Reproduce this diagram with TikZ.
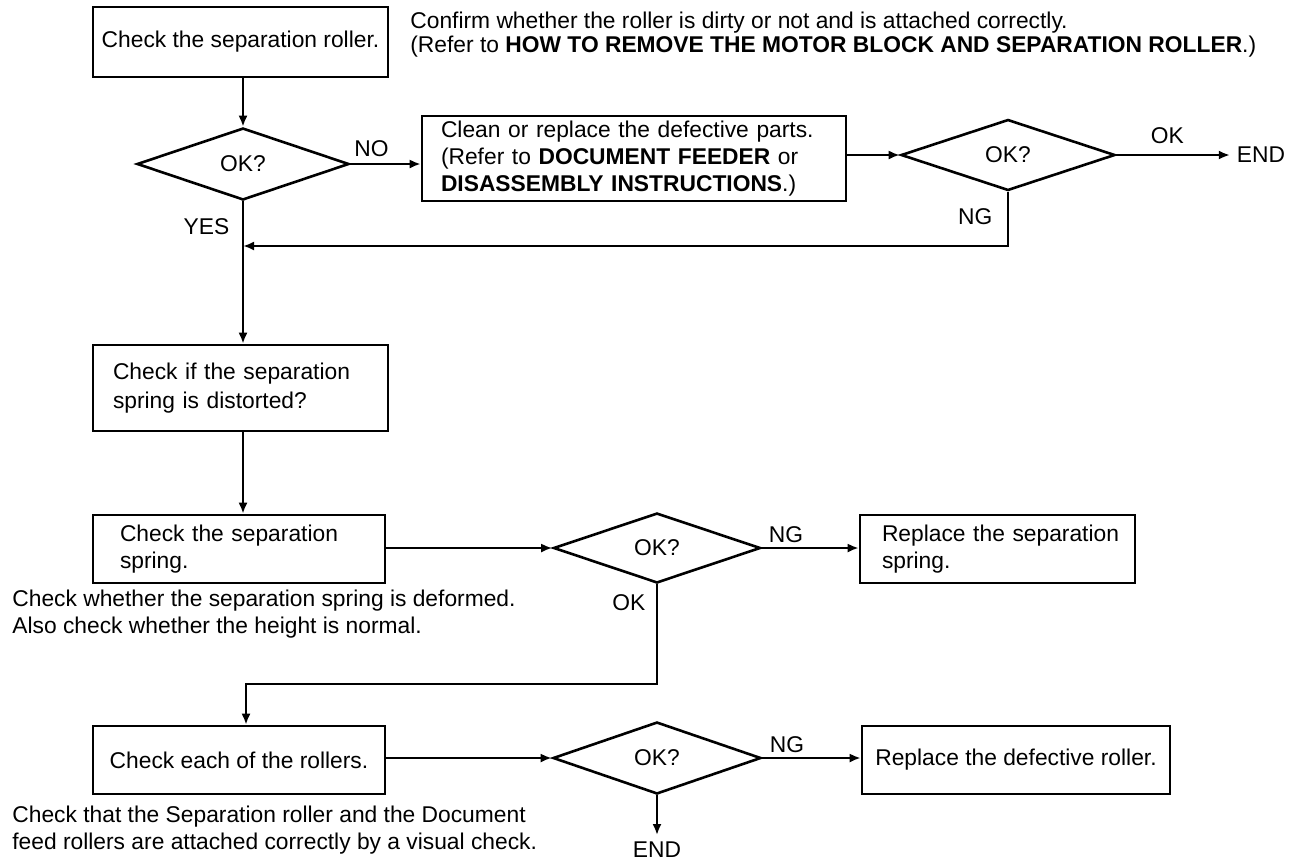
\documentclass[tikz,border=0pt]{standalone}
\usepackage{fontspec}
\setmainfont{Liberation Sans}
\usetikzlibrary{arrows.meta,shapes,positioning}

\begin{document}
\begin{tikzpicture}[>={Latex[length=5.5pt,width=4.5pt]},x=0.5pt,y=-0.5pt,line join=miter,
  every node/.style={font=\fontsize{11.4}{13.5}\selectfont},
  box/.style={draw,line width=1.3pt,inner ysep=0pt},
  test/.style={draw,diamond,line width=1.3pt,inner sep=0pt,minimum width=106pt,minimum height=36pt},
  link/.style={line width=1.1pt}]
\useasboundingbox (0,0) rectangle (1299,863);
%%
\node (chkRoller) at (240.5,42) [box,minimum width=147.5pt,minimum height=35pt,inner xsep=0pt] {Check the separation roller.};
  \node (rollerNote) at (410,35) [anchor=west,align=left,inner sep=0pt,font=\fontsize{11.4}{12}\selectfont] {Confirm whether the roller is dirty or not and is attached correctly.\\(Refer to \textbf{HOW TO REMOVE THE MOTOR BLOCK AND SEPARATION ROLLER}.)};
  \node (okRoller) at (243,164) [test] {OK?};
  \node (cleanParts) at (634,158.5) [box,minimum width=212pt,minimum height=42.5pt,inner xsep=9.5pt,text width=193pt,align=left] {Clean or replace the defective parts.\\(Refer to \textbf{DOCUMENT FEEDER} or\\\textbf{DISASSEMBLY INSTRUCTIONS}.)};
  \node (okClean) at (1008,155) [test,minimum width=107pt,minimum height=35.5pt] {OK?};
  \node (endClean) at (1261,155) {END};
  \coordinate (join) at (243,246);
  \node (chkDistort) at (240.5,388) [box,minimum width=147.5pt,minimum height=43pt,inner xsep=10pt,text width=127.5pt,align=left,font=\fontsize{11.4}{14.5}\selectfont] {Check if the separation\\spring is distorted?};
  \node (chkSpring) at (239,549) [box,minimum width=146pt,minimum height=34pt,inner xsep=13.5pt,text width=119pt,align=left] {Check the separation\\spring.};
  \node (springNote) at (12,614.5) [anchor=west,align=left,inner sep=0pt] {Check whether the separation spring is deformed.\\Also check whether the height is normal.};
  \node (okSpring) at (657,548) [test,minimum width=103.5pt,minimum height=35pt] {OK?};
  \node (newSpring) at (997.5,549) [box,minimum width=137.5pt,minimum height=34pt,inner xsep=11pt,text width=115.5pt,align=left] {\mbox{Replace the separation}\\spring.};
  \coordinate (bend) at (246,684);
  \node (chkRollers) at (239,760) [box,minimum width=146pt,minimum height=34pt,inner xsep=0pt] {Check each of the rollers.};
  \node (rollersNote) at (12,830) [anchor=west,align=left,inner sep=0pt] {Check that the Separation roller and the Document\\feed rollers are attached correctly by a visual check.};
  \node (okRollers) at (657,758) [test,minimum width=104pt] {OK?};
  \node (newRoller) at (1016,760) [box,minimum width=154pt,minimum height=34pt,inner xsep=0pt] {Replace the defective roller.};
  \node (endRollers) at (657,850) {END};
%
  \draw [link,->] (okRoller.north |- chkRoller.south) -- (okRoller.north);
  \draw [link,->] (okRoller.east) -- (okRoller.east -| cleanParts.west) node [pos=0.3,above] {NO};
  \draw [link,->] (cleanParts.east |- okClean.west) -- (okClean.west);
  \draw [link,->] (okClean.east) -- (endClean.west) node [pos=0.45,above=2pt] {OK};
  \draw [link,->] (okClean.south) |- (join) node [pos=0.23,left=4pt] {NG};
  \draw [link,->] (okRoller.south) -- (okRoller.south |- chkDistort.north) node [pos=0.18,left=3pt] {YES};
  \draw [link,->] (okRoller.south |- chkDistort.south) -- (okRoller.south |- chkSpring.north);
  \draw [link,->] (chkSpring.east |- okSpring.west) -- (okSpring.west);
  \draw [link,->] (okSpring.east) -- (okSpring.east -| newSpring.west) node [pos=0.25,above=-1pt] {NG};
  \draw [link,->] (okSpring.south) |- (bend) node [pos=0.09,left=2pt] {OK} -- (bend |- chkRollers.north);
  \draw [link,->] (chkRollers.east |- okRollers.west) -- (okRollers.west);
  \draw [link,->] (okRollers.east) -- (okRollers.east -| newRoller.west) node [pos=0.25,above=-1pt] {NG};
  \draw [link,->] (okRollers.south) -- (endRollers.north);
%
\end{tikzpicture}
\end{document}
